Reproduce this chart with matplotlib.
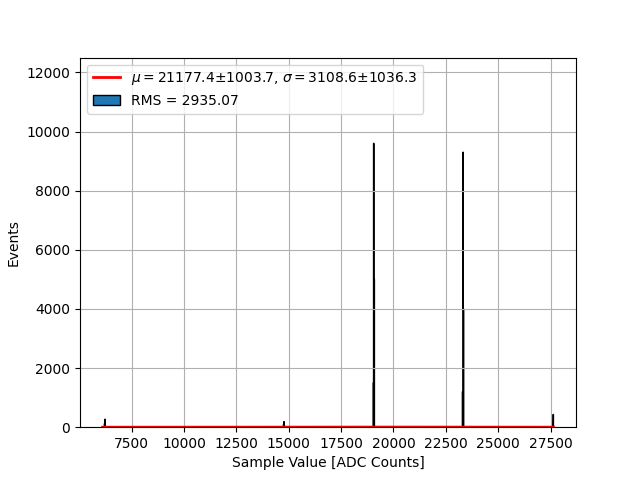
import numpy as np
import matplotlib
matplotlib.use("Agg")
import matplotlib.pyplot as plt
from matplotlib.ticker import MultipleLocator

# histogram range and binning
x_lo, x_hi = 6108, 27640
n_bins = 1000

# non-empty bins (sample value, counts)
peak_values = [6200, 6220, 14760, 14780, 19045, 19067, 19088,
               23300, 23322, 23343, 27600, 27620]
peak_counts = [120, 270, 90, 190, 1500, 9600, 5000,
               1200, 9300, 4000, 200, 430]

# gaussian fit result
mu, mu_err = 21177.4, 1003.7
sigma, sigma_err = 3108.6, 1036.3
amp = 4.0
rms = 2935.07

edges = np.linspace(x_lo, x_hi, n_bins + 1)

fig, ax = plt.subplots(figsize=(6.4, 4.8))
_, _, patches = ax.hist(peak_values, bins=edges, weights=peak_counts,
                        histtype='stepfilled', facecolor='C0',
                        edgecolor='black', label='RMS = %.2f' % rms)

xs = np.linspace(x_lo, x_hi, 500)
fit_line, = ax.plot(xs, amp * np.exp(-0.5 * ((xs - mu) / sigma) ** 2),
                    color='red', lw=2,
                    label=r'$\mu=%.1f$$\pm$%.1f, $\sigma=%.1f$$\pm$%.1f'
                    % (mu, mu_err, sigma, sigma_err))

ax.set_ylim(0, 12500)
ax.xaxis.set_major_locator(MultipleLocator(2500))
ax.set_xlabel('Sample Value [ADC Counts]')
ax.set_ylabel('Events')
ax.grid(True)
ax.legend(handles=[fit_line, patches[0]], loc='upper left')

fig.savefig('out.png')
